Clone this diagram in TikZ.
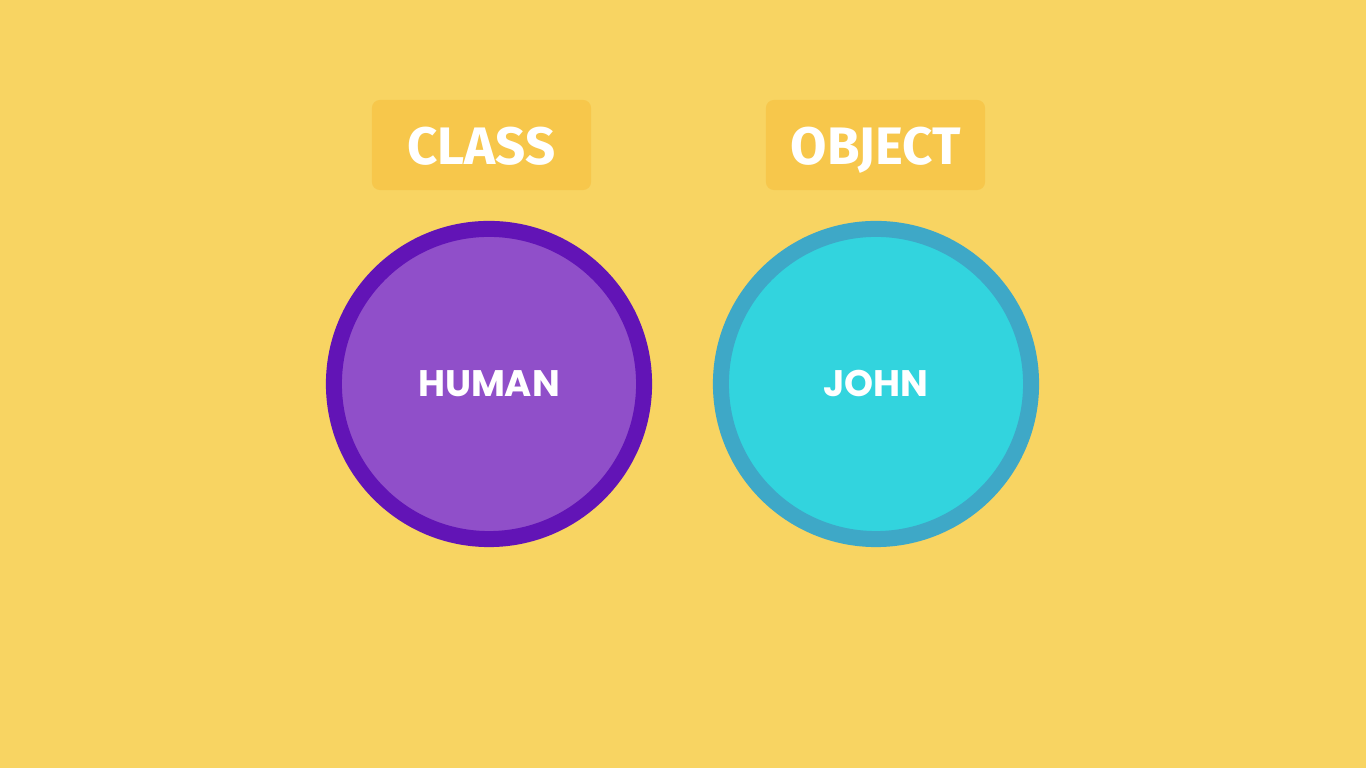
\documentclass[tikz,border=0pt]{standalone}
\usepackage{fontspec}
\setmainfont{Fira Sans}
\newfontfamily\roundfont{Poppins}
\usetikzlibrary{positioning}
\definecolor{bgyellow}{HTML}{F8D462}
\definecolor{tagyellow}{HTML}{F7C74B}
\definecolor{classfill}{HTML}{904FC9}
\definecolor{classring}{HTML}{6214B6}
\definecolor{objfill}{HTML}{32D4DE}
\definecolor{objring}{HTML}{3EA8C7}

\begin{document}
\begin{tikzpicture}[
              x=0.01cm, y=-0.01cm,
              tag/.style={fill=tagyellow, rounded corners=0.08cm, minimum width=2.19cm,
                          minimum height=0.9cm, inner sep=0pt, text height=0.4cm, text depth=0cm,
                          text=white, font=\fontsize{15}{18}\selectfont\bfseries},
              ball/.style={circle, line width=0.16cm, minimum size=3.1cm, text=white,
                           inner sep=0pt, text height=0.26cm, text depth=0cm,
                           font=\roundfont\fontsize{10.5}{12}\selectfont\bfseries}
            ]

            % Background
            \fill[bgyellow] (0,0) rectangle (1366,768);

            % Circles
            \node[ball, draw=classring, fill=classfill] (human) at (489,384) {HUMAN};
            \node[ball, draw=objring, fill=objfill] (john) at (876,384) {JOHN};

            % Tags
            \node[tag] (class) at (481.5,145) {CLASS};
            \node[tag] (object) at (875.5,145) {OBJECT};

            \end{tikzpicture}
\end{document}
